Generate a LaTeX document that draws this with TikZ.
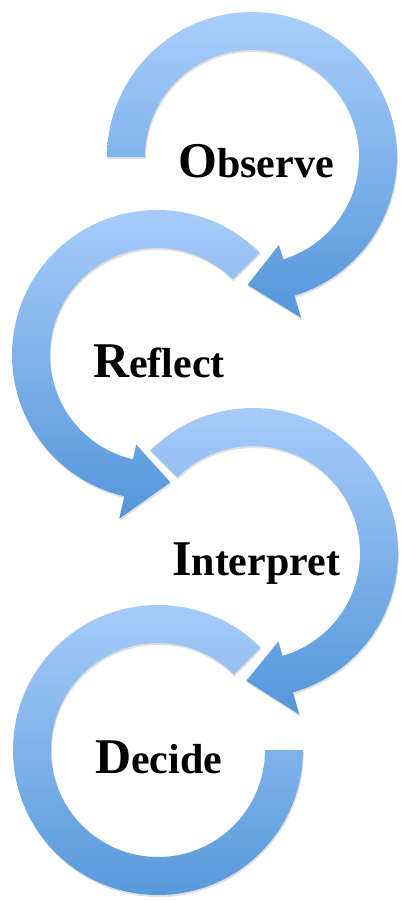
\documentclass[tikz,border=0pt]{standalone}
\usepackage{fontspec}
\setmainfont{Liberation Serif}
\usetikzlibrary{shadows}
\definecolor{ringtop}{RGB}{170,206,251}
\definecolor{ringbot}{RGB}{84,150,218}
\newcommand{\initiale}[1]{{\fontsize{50}{50}\selectfont #1}}

\begin{document}
\begin{tikzpicture}[
    x=1pt, y=1pt,
    ring/.style={
        draw=none,
        top color=ringtop,
        bottom color=ringbot,
        drop shadow={shadow xshift=0.8pt, shadow yshift=-2pt, opacity=0.25}
    },
    lbl/.style={
        font=\fontsize{42}{42}\selectfont\bfseries,
        anchor=base west,
        inner sep=0pt
    }
]
\useasboundingbox (0,0) rectangle (400,-901);

% anneau 1
\path[ring, shift={(252,-157)}]
    (180:145pt) arc[start angle=180, end angle=-73, radius=145pt]
    -- (-73:168pt) -- (-92:128pt) -- (-73:92pt) -- (-73:107pt)
    arc[start angle=-73, end angle=180, radius=107pt] -- cycle;

% anneau 2
\path[ring, shift={(157,-355)}]
    (45:145pt) arc[start angle=45, end angle=257, radius=145pt]
    -- (257:168pt) -- (276:128pt) -- (257:92pt) -- (257:107pt)
    arc[start angle=257, end angle=45, radius=107pt] -- cycle;

% anneau 3
\path[ring, shift={(253,-553)}]
    (135:145pt) arc[start angle=135, end angle=-74, radius=145pt]
    -- (-74:168pt) -- (-93:128pt) -- (-74:92pt) -- (-74:107pt)
    arc[start angle=-74, end angle=135, radius=107pt] -- cycle;

% anneau 4
\path[ring, shift={(158,-750)}]
    (45:145pt) arc[start angle=45, end angle=360, radius=145pt]
    -- (0:107pt)
    arc[start angle=360, end angle=45, radius=107pt] -- cycle;

% textes
\node[lbl] (observe)   at (178,-178) {\initiale{O}bserve};
\node[lbl] (reflect)   at (93,-377)  {\initiale{R}eflect};
\node[lbl] (interpret) at (172,-575) {\initiale{I}nterpret};
\node[lbl] (decide)    at (95,-773)  {\initiale{D}ecide};

\end{tikzpicture}
\end{document}
